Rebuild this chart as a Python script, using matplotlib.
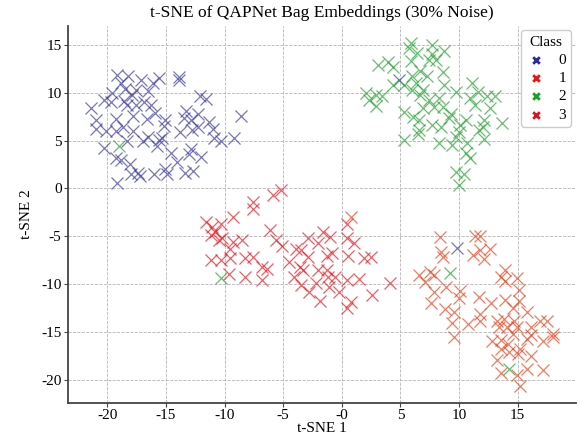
import numpy as np
import matplotlib
matplotlib.use("Agg")
import matplotlib.pyplot as plt

plt.rcParams['font.family'] = ['Liberation Serif', 'DejaVu Serif']
plt.rcParams['axes.unicode_minus'] = False

# class 0 (blue)
x0 = [-19.2, -18.2, -18.8, -17.1, -15.6, -16.1, -13.9, -13.9, -19.6, -18.5,
      -17.6, -16.5, -20.3, -19.7, -18.6, -17.9, -21.4, -12.1, -11.6, -18.3,
      -17.6, -16.9, -16.3, -17.8, -16.6, -15.9, -19.3, -21.0, -15.1, -15.2,
      -13.5, -13.3, -12.9, -12.3, -11.3, -8.6, -21.0, -20.1, -19.3, -18.7,
      -17.8, -16.5, -17.0, -15.6, -15.3, -18.3, -13.8, -12.8, -12.3, -11.0,
      -10.9, -10.3, -9.2, -20.3, -19.3, -18.8, -18.1, -15.8, -14.6, -14.1,
      -12.9, -13.0, -12.0, -18.0, -17.4, -17.2, -16.0, -15.1, -14.9, -13.4,
      -12.7, -19.2, 4.9, 9.8]
y0 = [11.8, 11.7, 11.0, 11.3, 11.5, 11.0, 11.6, 11.3, 10.0, 10.4,
      10.3, 10.2, 9.2, 9.0, 9.1, 9.7, 8.4, 9.6, 9.3, 8.7,
      8.7, 9.0, 8.7, 7.6, 7.2, 7.9, 7.2, 7.1, 7.1, 6.5,
      7.3, 8.1, 7.1, 7.8, 6.9, 7.6, 6.2, 6.0, 6.0, 6.4,
      6.0, 5.4, 5.0, 5.1, 5.3, 5.0, 5.9, 6.1, 6.4, 6.2,
      5.3, 5.0, 5.3, 4.2, 3.2, 3.0, 2.6, 4.4, 3.7, 2.8,
      4.1, 3.6, 3.3, 1.5, 1.6, 1.3, 1.5, 2.0, 1.5, 1.6,
      1.8, 0.6, 11.3, -6.2]

# class 1 (red)
x1 = [-5.2, -5.9, -7.6, -7.6, -9.3, -11.6, 0.4, -11.1, -10.3, -10.8,
      -11.2, -10.5, -10.2, -6.1, -5.6, -5.1, -9.3, -8.5, -9.5, -11.2,
      -10.3, -9.5, -8.3, -7.6, -6.8, -6.4, -9.6, -8.3, -6.8, -2.9,
      -1.6, -1.0, -2.0, 0.4, 1.0, -3.9, -3.5, -4.5, -2.9, -1.3,
      -0.8, 0.5, 1.9, 2.5, -3.6, -3.3, -4.1, -2.0, -1.3, -1.2,
      -0.6, 0.4, 1.5, 4.1, -3.5, -2.2, -2.8, -1.1, -0.2, -1.9,
      0.8, 0.4, 2.6]
y1 = [-0.2, -0.7, -1.4, -2.1, -3.0, -3.5, -3.7, -4.0, -3.7, -4.5,
      -4.9, -5.4, -5.2, -4.3, -5.4, -6.0, -5.6, -5.4, -6.3, -7.5,
      -7.5, -7.3, -7.3, -7.2, -8.2, -8.4, -8.9, -9.2, -9.6, -5.2,
      -4.5, -5.1, -5.7, -5.2, -5.7, -6.3, -6.4, -7.7, -7.2, -7.0,
      -6.7, -7.0, -7.3, -7.1, -8.2, -8.5, -9.2, -8.5, -8.5, -9.2,
      -9.2, -9.6, -9.4, -9.9, -10.1, -9.9, -10.8, -10.3, -10.8, -11.7,
      -11.8, -12.5, -11.1]

# class 2 (green)
x2 = [5.9, 5.7, 7.7, 6.4, 8.7, 7.7, 7.4, 8.0, 5.9, 3.1,
      3.9, 4.4, 6.7, 8.6, 4.4, 6.0, 7.3, 5.3, 6.3, 8.7,
      11.1, 11.6, 2.1, 2.9, 2.3, 3.4, 2.9, 6.0, 6.9, 6.7,
      7.4, 8.3, 7.9, 8.6, 9.7, 10.9, 11.4, 12.4, 13.1, 12.6,
      6.9, 5.3, 6.1, 6.6, 9.3, 9.1, 10.6, 10.1, 7.7, 8.5,
      6.6, 6.5, 12.1, 12.0, 11.7, 13.7, 10.0, 9.7, 12.1, 5.3,
      8.3, 9.4, 10.7, 10.6, 10.9, 9.7, 10.4, 10.0, -19.0, -10.3,
      9.2, 14.3]
y2 = [15.2, 14.7, 15.0, 14.1, 14.3, 14.0, 13.4, 13.4, 13.3, 12.9,
      13.2, 12.7, 12.2, 12.1, 10.8, 11.7, 11.7, 10.8, 11.0, 10.8,
      11.0, 10.1, 10.0, 9.8, 9.2, 9.6, 8.6, 10.3, 10.3, 9.8,
      9.2, 9.4, 8.5, 8.5, 10.1, 9.4, 8.7, 9.6, 9.6, 8.4,
      8.4, 8.0, 7.5, 7.1, 7.8, 7.3, 7.1, 6.6, 6.6, 6.4,
      6.1, 5.7, 7.1, 6.4, 6.1, 6.8, 5.9, 5.4, 5.2, 5.1,
      4.7, 4.5, 4.7, 3.7, 3.2, 1.7, 1.5, 0.4, 4.4, -9.3,
      -8.8, -18.8]

# class 3 (orange-red)
x3 = [8.4, 11.4, 11.8, 8.5, 8.6, 11.2, 11.8, 12.6, 12.1, 6.6,
      7.5, 7.9, 7.1, 13.9, 13.6, 13.9, 14.9, 7.9, 8.9, 10.1,
      10.0, 15.1, 11.7, 12.7, 13.9, 15.1, 7.6, 8.8, 9.6, 9.4,
      10.8, 11.8, 11.8, 14.6, 15.8, 13.2, 13.8, 14.7, 16.9, 17.5,
      13.4, 14.1, 14.9, 16.1, 9.6, 12.8, 13.6, 14.2, 14.6, 15.8,
      16.1, 17.2, 18.0, 18.0, 13.6, 14.3, 15.2, 15.0, 16.1, 13.2,
      13.6, 14.9, 15.8, 17.2, 15.2, 0.8]
y3 = [-5.1, -5.0, -5.0, -6.6, -7.2, -6.9, -6.4, -6.3, -7.4, -9.0,
      -8.7, -9.0, -9.8, -8.5, -9.2, -9.7, -9.3, -10.8, -10.3, -10.7,
      -11.4, -10.6, -11.3, -12.0, -11.6, -11.7, -11.9, -12.6, -12.9, -14.0,
      -14.1, -13.1, -13.8, -12.5, -12.9, -13.8, -13.6, -13.8, -13.8, -13.8,
      -14.5, -14.5, -14.5, -14.5, -15.5, -15.9, -15.8, -16.2, -15.2, -15.7,
      -15.3, -15.9, -15.2, -15.5, -16.8, -17.1, -16.8, -17.3, -17.5, -17.9,
      -19.3, -19.5, -18.8, -18.9, -20.6, -3.0]

class_names = ['0', '1', '2', '3']
class_colors = ['#38389e', '#e8141e', '#22a22e', '#e6401c']
legend_colors = ['#2a2aa0', '#f01010', '#1aa028', '#e0101c']

xticks = [-20, -15, -10, -5, 0, 5, 10, 15]
xtick_labels = ['-20', '-15', '-10', '-5', '-0', '5', '10', '15']
yticks = [-20, -15, -10, -5, 0, 5, 10, 15]

fig = plt.figure(figsize=(5.8, 4.41), dpi=100)
ax = fig.add_axes([0.117, 0.086, 0.876, 0.856])

xs = [x0, x1, x2, x3]
ys = [y0, y1, y2, y3]
for i in range(4):
    ax.scatter(xs[i], ys[i], marker='x', s=75, linewidths=0.9,
               color=class_colors[i], alpha=0.68, label=class_names[i], zorder=3)

ax.set_xticks(xticks, xtick_labels)
ax.set_yticks(yticks)
ax.grid(True, linestyle='--', linewidth=0.6, color='#b5b5b5')
ax.set_axisbelow(True)

for side in ['top', 'right']:
    ax.spines[side].set_visible(False)
for side in ['left', 'bottom']:
    ax.spines[side].set_color('#444444')
    ax.spines[side].set_linewidth(1.3)

ax.tick_params(labelsize=11, length=3, pad=1.5, color='#444444')
ax.set_xlabel('t-SNE 1', fontsize=11, labelpad=0)
ax.set_ylabel('t-SNE 2', fontsize=11, labelpad=6)
ax.set_title('t-SNE of QAPNet Bag Embeddings (30% Noise)', fontsize=12.5, pad=6)

leg = ax.legend(title='Class', loc='upper right', fontsize=11, title_fontsize=11,
                markerscale=0.55, handletextpad=0.8, handlelength=1.3,
                borderpad=0.35, labelspacing=0.3, borderaxespad=0.3,
                framealpha=1.0, edgecolor='#cccccc')
for h, c in zip(leg.legend_handles, legend_colors):
    h.set_alpha(1.0)
    h.set_color(c)
    h.set_linewidth(2.0)

fig.savefig('out.png', dpi=100)
